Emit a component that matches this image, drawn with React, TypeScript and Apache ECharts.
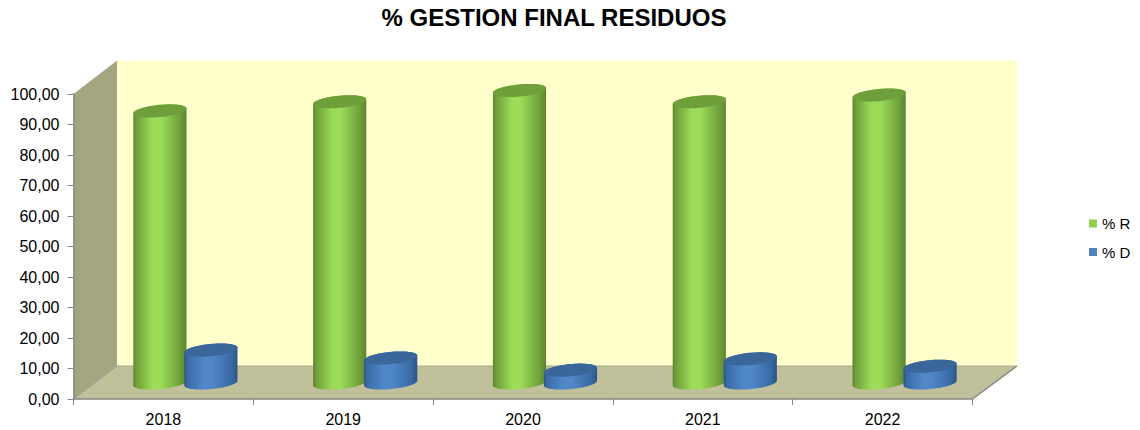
import React, { useEffect, useRef } from "react";
import * as echarts from "echarts";

const categories = ["2018", "2019", "2020", "2021", "2022"];
const seriesR = [89.2, 92.2, 95.9, 92.2, 94.4];
const seriesD = [10.8, 8.2, 4.2, 7.9, 5.5];
const tickFormat = (v: number) => v.toFixed(2).replace(".", ",");

const DX = 22, DY = -16, OFFSET = 25.5, RX = 26.7, RY = 6.1, TILT = (-5.5 * Math.PI) / 180;
const FONT = "'Liberation Sans', Arial, sans-serif";

function ell(cx: number, cy: number, a: number) {
  return [
    cx + RX * Math.cos(a) * Math.cos(TILT) - RY * Math.sin(a) * Math.sin(TILT),
    cy + RX * Math.cos(a) * Math.sin(TILT) + RY * Math.sin(a) * Math.cos(TILT),
  ];
}

function cylinder(side: number, edge: string, mid: string, edge2: string, top: string) {
  return (_: any, api: any) => {
    const idx = api.value(0);
    const val = api.value(1);
    const p = api.coord([idx, val]);
    const b = api.coord([idx, 0]);
    const cx = p[0] + DX + side * OFFSET;
    const topY = p[1] + DY;
    const baseY = b[1] + DY;
    const body: number[][] = [];
    const N = 40;
    for (let i = 0; i <= N; i++) body.push(ell(cx, baseY, (i / N) * Math.PI));
    for (let i = 0; i <= N; i++) body.push(ell(cx, topY, Math.PI + (i / N) * Math.PI));
    const cap: number[][] = [];
    for (let i = 0; i < 72; i++) cap.push(ell(cx, topY, (i / 72) * 2 * Math.PI));
    return {
      type: "group",
      children: [
        {
          type: "polygon",
          shape: { points: body },
          style: {
            fill: new echarts.graphic.LinearGradient(0, 0, 1, 0, [
              { offset: 0, color: edge2 },
              { offset: 0.06, color: edge },
              { offset: 0.36, color: mid },
              { offset: 0.52, color: mid },
              { offset: 0.88, color: edge },
              { offset: 1, color: edge2 },
            ]),
          },
        },
        { type: "polygon", shape: { points: cap }, style: { fill: top } },
      ],
    };
  };
}

export default function App() {
  const ref = useRef<HTMLDivElement>(null);
  useEffect(() => {
    const chart = echarts.init(ref.current!, undefined, { renderer: "svg" });
    chart.setOption({
      animation: false,
      backgroundColor: "#ffffff",
      title: {
        text: "% GESTION FINAL RESIDUOS",
        left: 549,
        top: 0,
        textAlign: "center",
        textStyle: { fontFamily: FONT, fontSize: 24, fontWeight: "bold", color: "#000" },
      },
      legend: {
        orient: "vertical",
        left: 1084,
        top: 211,
        itemWidth: 8,
        itemHeight: 8,
        itemGap: 13.5,
        icon: "rect",
        textStyle: { fontFamily: FONT, fontSize: 15, color: "#000" },
        data: ["% R", "% D"],
      },
      grid: { left: 73.5, right: 167.5, top: 94, bottom: 31 },
      xAxis: {
        type: "category",
        data: categories,
        boundaryGap: true,
        axisLine: { lineStyle: { color: "#868686", width: 1.5 } },
        axisTick: { show: true, length: 6, lineStyle: { color: "#868686" } },
        axisLabel: { fontFamily: FONT, fontSize: 16, color: "#000", margin: 12 },
      },
      yAxis: {
        type: "value",
        min: 0,
        max: 100,
        interval: 10,
        splitLine: { show: false },
        axisLine: { show: true, lineStyle: { color: "#868686", width: 1.5 } },
        axisTick: { show: true, length: 6, lineStyle: { color: "#868686" } },
        axisLabel: { fontFamily: FONT, fontSize: 16, color: "#000", margin: 14, formatter: tickFormat },
      },
      graphic: [
        { type: "polygon", z: -1, shape: { points: [[117, 60.5], [1017, 60.5], [1017, 366], [117, 366]] }, style: { fill: "#ffffcc" } },
        { type: "polygon", z: -1, shape: { points: [[73.5, 94], [117, 60.5], [117, 366], [73.5, 399]] }, style: { fill: "#a5a582" } },
        { type: "polygon", z: -1, shape: { points: [[73.5, 399], [117, 366], [1017, 366], [972.5, 399]] }, style: { fill: "#c0c09a" } },
        { type: "line", z: -1, shape: { x1: 73.5, y1: 399, x2: 117, y2: 366 }, style: { stroke: "#9a9a9a", lineWidth: 1 } },
        { type: "line", z: -1, shape: { x1: 972.5, y1: 399, x2: 1017, y2: 366 }, style: { stroke: "#868686", lineWidth: 1.5 } },
        { type: "line", z: -1, shape: { x1: 117, y1: 366, x2: 1017, y2: 366 }, style: { stroke: "#a8a88c", lineWidth: 1 } },
      ],
      series: [
        {
          type: "custom",
          name: "% R",
          z: 3,
          itemStyle: { color: "#92d050" },
          data: seriesR.map((v, i) => [i, v]),
          encode: { x: 0, y: 1 },
          renderItem: cylinder(-1, "#6f9f3a", "#9cdc58", "#5a8530", "#6f9f3a"),
        },
        {
          type: "custom",
          name: "% D",
          z: 4,
          itemStyle: { color: "#4f81bd" },
          data: seriesD.map((v, i) => [i, v]),
          encode: { x: 0, y: 1 },
          renderItem: cylinder(1, "#3a6ba6", "#5087c8", "#2b5485", "#3a6699"),
        },
      ],
    });
    return () => chart.dispose();
  }, []);
  return <div ref={ref} style={{ position: "absolute", left: 0, top: 0, width: 1140, height: 430 }} />;
}
